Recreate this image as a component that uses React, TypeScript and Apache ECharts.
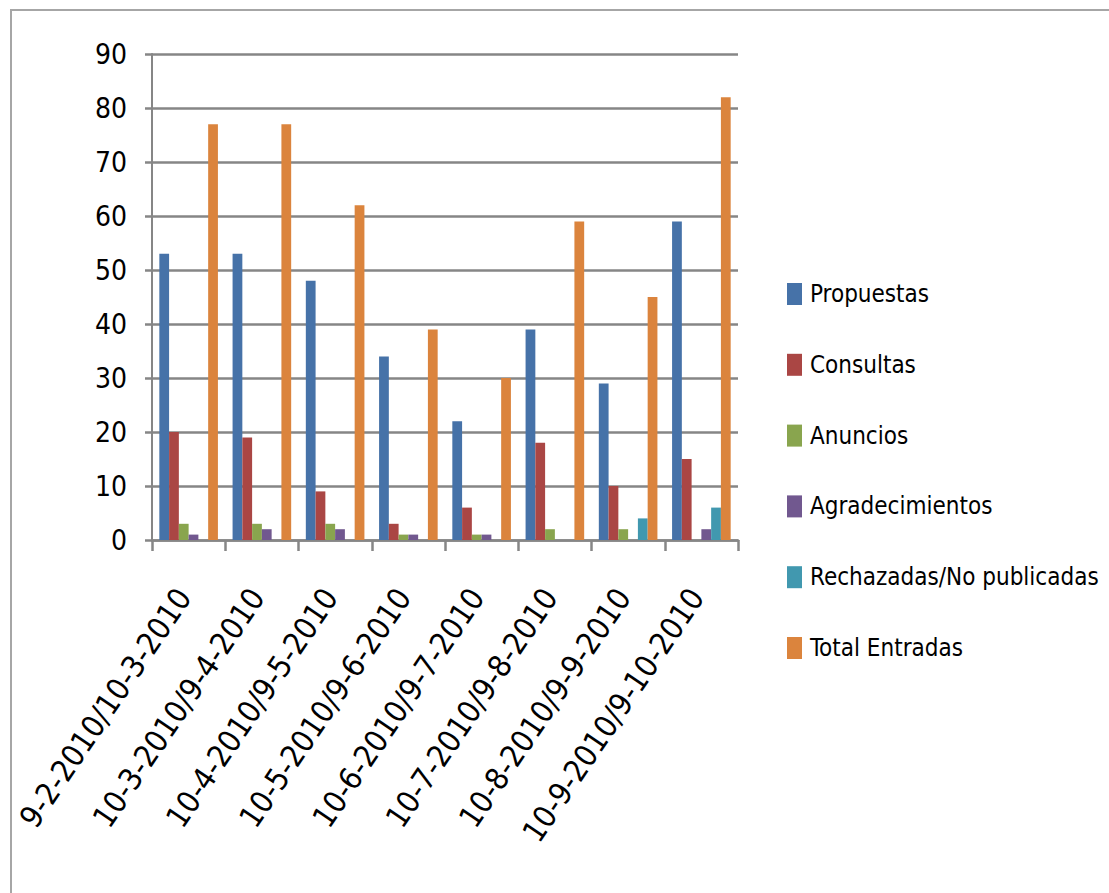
import React, { useEffect, useRef } from "react";
import * as echarts from "echarts";

const categories = [
  "9-2-2010/10-3-2010",
  "10-3-2010/9-4-2010",
  "10-4-2010/9-5-2010",
  "10-5-2010/9-6-2010",
  "10-6-2010/9-7-2010",
  "10-7-2010/9-8-2010",
  "10-8-2010/9-9-2010",
  "10-9-2010/9-10-2010",
];
const propuestas = [53, 53, 48, 34, 22, 39, 29, 59];
const consultas = [20, 19, 9, 3, 6, 18, 10, 15];
const anuncios = [3, 3, 3, 1, 1, 2, 2, 0];
const agradecimientos = [1, 2, 2, 1, 1, 0, 0, 2];
const rechazadas = [0, 0, 0, 0, 0, 0, 4, 6];
const totalEntradas = [77, 77, 62, 39, 30, 59, 45, 82];

const seriesNames = [
  "Propuestas",
  "Consultas",
  "Anuncios",
  "Agradecimientos",
  "Rechazadas/No publicadas",
  "Total Entradas",
];
const seriesData = [propuestas, consultas, anuncios, agradecimientos, rechazadas, totalEntradas];
const colors = ["#4672A8", "#AA4644", "#89A54E", "#71588F", "#4198AF", "#DB843D"];

const FONT = "'Liberation Sans Narrow', 'DejaVu Sans Condensed', 'Liberation Sans', sans-serif";

export default function App() {
  const ref = useRef<HTMLDivElement>(null);
  useEffect(() => {
    if (!ref.current) return;
    const chart = echarts.init(ref.current, undefined, { renderer: "svg" });
    chart.setOption({
      animation: false,
      backgroundColor: "#ffffff",
      color: colors,
      grid: {
        left: 152,
        top: 54,
        right: 371,
        bottom: 353,
        containLabel: false,
        outerBoundsMode: "none",
      },
      legend: {
        orient: "vertical",
        left: 787,
        top: 279,
        padding: 0,
        itemWidth: 15,
        itemHeight: 22,
        itemGap: 40.8,
        icon: "rect",
        data: seriesNames,
        textStyle: {
          fontFamily: FONT,
          fontSize: 24,
          lineHeight: 30,
          color: "#000000",
          padding: [0, 0, 0, 3],
        },
      },
      xAxis: {
        type: "category",
        data: categories,
        axisLine: { lineStyle: { color: "#868686", width: 2.5 } },
        axisTick: { show: true, alignWithLabel: false, length: 11, lineStyle: { color: "#868686", width: 2.5 } },
        axisLabel: {
          interval: 0,
          rotate: 56,
          margin: 44,
          padding: [0, 9, 0, 0],
          fontFamily: FONT,
          fontSize: 31,
          color: "#000000",
        },
      },
      yAxis: {
        type: "value",
        min: 0,
        max: 90,
        interval: 10,
        axisLine: { show: true, lineStyle: { color: "#868686", width: 2 } },
        axisTick: { show: true, length: 7, lineStyle: { color: "#868686", width: 2.5 } },
        splitLine: { show: true, lineStyle: { color: "#868686", width: 2.5 } },
        axisLabel: {
          margin: 25,
          fontFamily: FONT,
          fontSize: 28,
          color: "#000000",
        },
      },
      series: seriesNames.map((name, i) => ({
        name,
        type: "bar",
        data: seriesData[i],
        barGap: "0%",
        barCategoryGap: "20%",
        itemStyle: { color: colors[i] },
      })),
      graphic: [
        {
          type: "line",
          shape: { x1: 11, y1: 10, x2: 11, y2: 893 },
          style: { stroke: "#a6a6a6", lineWidth: 2 },
        },
        {
          type: "line",
          shape: { x1: 10, y1: 10, x2: 1109, y2: 10 },
          style: { stroke: "#a6a6a6", lineWidth: 2 },
        },
      ],
    });
    return () => chart.dispose();
  }, []);
  return (
    <div
      ref={ref}
      style={{ position: "absolute", left: 0, top: 0, width: 1109, height: 893, background: "#fff" }}
    />
  );
}
